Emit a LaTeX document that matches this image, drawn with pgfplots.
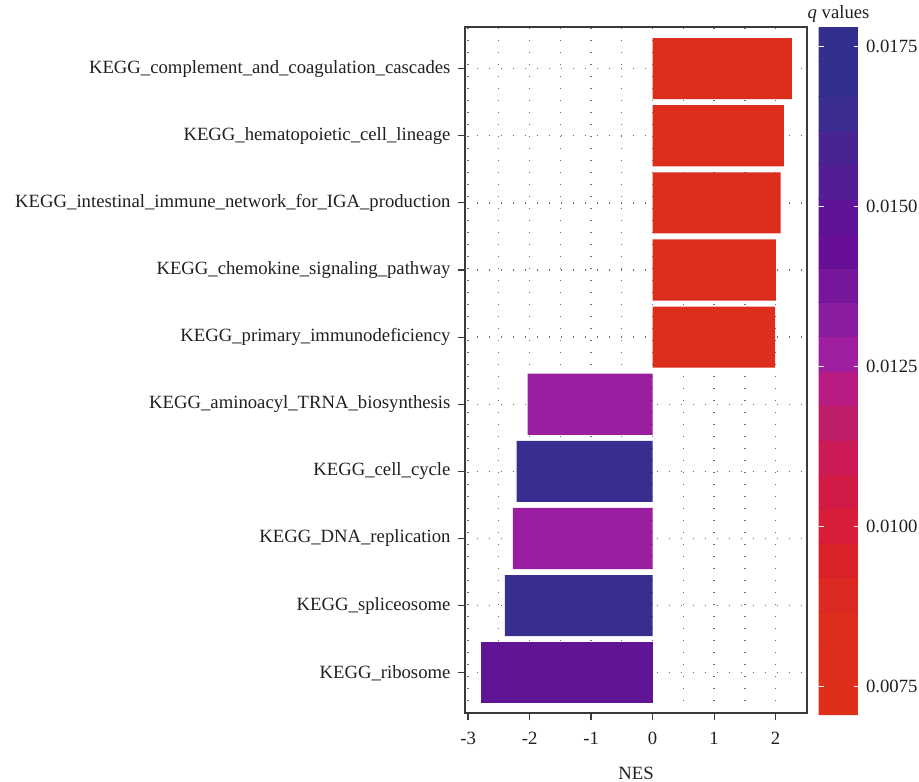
\documentclass[border=0pt]{standalone}
\usepackage{fontspec}
\setmainfont{Liberation Serif}
\usepackage{pgfplots}
\usepackage{pgfplotstable}
\pgfplotsset{compat=1.18}

\definecolor{framegray}{HTML}{3A3A3A}
\definecolor{labeltext}{HTML}{231F20}
\definecolor{dotgray}{HTML}{6E6E6E}
% bar fills, one per q-value band
\definecolor{qRed}{HTML}{DD2D1C}
\definecolor{qMagenta}{HTML}{9C1EA0}
\definecolor{qPurple}{HTML}{5F1596}
\definecolor{qBlue}{HTML}{382E90}

\newcommand{\labelfont}{\fontsize{18.7}{22}\selectfont}

% q-value colour scale, low (red) to high (blue), 20 bands
\pgfplotsset{colormap={qvals}{
  rgb255=(222,47,26)  rgb255=(221,46,27)  rgb255=(221,45,29)  rgb255=(220,42,34)
  rgb255=(218,35,41)  rgb255=(215,29,56)  rgb255=(209,26,70)  rgb255=(203,26,85)
  rgb255=(192,29,104) rgb255=(184,27,130) rgb255=(178,28,149) rgb255=(160,30,160)
  rgb255=(138,28,159) rgb255=(117,22,155) rgb255=(103,16,151) rgb255=(95,19,150)
  rgb255=(83,29,148)  rgb255=(72,36,147)  rgb255=(59,45,144)  rgb255=(51,48,141)
  rgb255=(51,48,141)}}

% position (0 = bottom row), NES, q value
\pgfplotstableread{
pos nes q
9 2.265 0.0073
8 2.135 0.0074
7 2.080 0.0074
6 2.005 0.0075
5 1.990 0.0075
}\upRed
\pgfplotstableread{
pos nes q
4 -2.03 0.0132
2 -2.27 0.0132
}\downMagenta
\pgfplotstableread{
pos nes q
3 -2.21 0.0175
1 -2.40 0.0175
}\downBlue
\pgfplotstableread{
pos nes q
0 -2.79 0.0154
}\downPurple

\begin{document}
\begin{tikzpicture}
\useasboundingbox (-465pt,-69pt) rectangle (454pt,713pt);
\begin{axis}[
  at={(0,0)}, anchor=south west,
  width=342pt, height=686pt, scale only axis,
  xmin=-3.05, xmax=2.51, ymin=-0.6, ymax=9.62,
  axis line style={draw=framegray, line width=1.5pt},
  xtick={-3,-2,-1,0,1,2},
  xticklabels={-3,-2,-1,0,1,2},
  minor xtick={-2.5,-1.5,-0.5,0.5,1.5,2.5},
  ytick={0,...,9},
  yticklabels={KEGG\_ribosome,
    KEGG\_spliceosome,
    KEGG\_DNA\_replication,
    KEGG\_cell\_cycle,
    KEGG\_aminoacyl\_TRNA\_biosynthesis,
    KEGG\_primary\_immunodeficiency,
    KEGG\_chemokine\_signaling\_pathway,
    KEGG\_intestinal\_immune\_network\_for\_IGA\_production,
    KEGG\_hematopoietic\_cell\_lineage,
    KEGG\_complement\_and\_coagulation\_cascades},
  tick align=outside, xtick pos=bottom, ytick pos=left,
  major tick length=7pt, minor tick length=0pt,
  tick style={draw=framegray, line width=1.2pt},
  xmajorgrids, xminorgrids, ymajorgrids,
  grid style={draw=dotgray, line width=1.3pt, dash pattern=on 1.3pt off 10.7pt},
  tick label style={font=\labelfont, text=labeltext},
  xticklabel style={yshift=-9pt},
  yticklabel style={xshift=-4pt},
  xlabel={NES},
  xlabel style={font=\labelfont, text=labeltext, yshift=-15pt},
  point meta min=0.00706, point meta max=0.01781,
  colormap name=qvals,
  colormap access=piecewise constant,
  colorbar sampled,
  colorbar style={
    at={(parent axis.north east)}, anchor=north west, xshift=3pt,
    width=40pt, height=688pt, scale only axis,
    samples=21,
    axis line style={draw=none},
    ytick={0.0075,0.01,0.0125,0.015,0.0175},
    scaled y ticks=false,
    /pgf/number format/assume math mode=true,
    yticklabel style={xshift=4pt, /pgf/number format/.cd, fixed, fixed zerofill, precision=4},
    ytick pos=both, yticklabel pos=right,
    tick align=inside, major tick length=5pt,
    tick style={draw=white, line width=1pt},
    tick label style={font=\labelfont, text=labeltext},
    title={\textit{q} values},
    title style={font=\labelfont, text=labeltext,
      at={(0.5,1)}, anchor=base, yshift=2pt},
  },
  nes bar/.style={xbar, bar shift=0pt, bar width=0.91, draw=none},
]
\addplot[nes bar, fill=qRed]     table[x=nes, y=pos] {\upRed};
\addplot[nes bar, fill=qMagenta] table[x=nes, y=pos] {\downMagenta};
\addplot[nes bar, fill=qBlue]    table[x=nes, y=pos] {\downBlue};
\addplot[nes bar, fill=qPurple]  table[x=nes, y=pos] {\downPurple};
\end{axis}
\end{tikzpicture}
\end{document}
